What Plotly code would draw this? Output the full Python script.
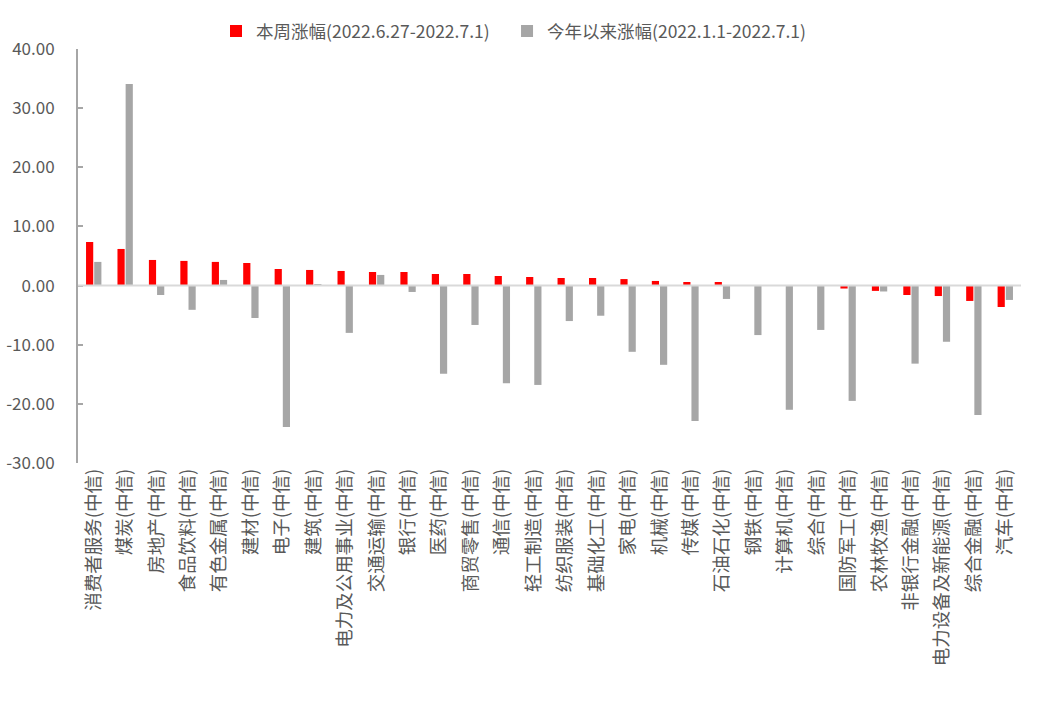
import plotly.graph_objects as go

categories = ["消费者服务(中信)", "煤炭(中信)", "房地产(中信)", "食品饮料(中信)", "有色金属(中信)",
              "建材(中信)", "电子(中信)", "建筑(中信)", "电力及公用事业(中信)", "交通运输(中信)",
              "银行(中信)", "医药(中信)", "商贸零售(中信)", "通信(中信)", "轻工制造(中信)",
              "纺织服装(中信)", "基础化工(中信)", "家电(中信)", "机械(中信)", "传媒(中信)",
              "石油石化(中信)", "钢铁(中信)", "计算机(中信)", "综合(中信)", "国防军工(中信)",
              "农林牧渔(中信)", "非银行金融(中信)", "电力设备及新能源(中信)", "综合金融(中信)", "汽车(中信)"]

week_change = [7.37, 6.19, 4.33, 4.17, 4.00, 3.82, 2.80, 2.64, 2.47, 2.30,
               2.30, 1.96, 1.96, 1.62, 1.45, 1.28, 1.28, 1.10, 0.78, 0.60,
               0.60, 0.05, 0.02, -0.05, -0.50, -0.90, -1.60, -1.77, -2.60, -3.62]

ytd_change = [4.00, 34.10, -1.60, -4.10, 0.95, -5.48, -23.90, 0.27, -8.00, 1.80,
              -1.08, -14.90, -6.66, -16.50, -16.80, -6.00, -5.10, -11.20, -13.40, -22.90,
              -2.26, -8.37, -21.00, -7.50, -19.50, -1.00, -13.20, -9.50, -21.90, -2.43]

series_names = ["本周涨幅(2022.6.27-2022.7.1)", "今年以来涨幅(2022.1.1-2022.7.1)"]
y_ticks = [-30, -20, -10, 0, 10, 20, 30, 40]
y_tick_labels = [f"{v:.2f}" for v in y_ticks]

FONT = "Noto Sans CJK SC, Microsoft YaHei, sans-serif"
TXT = "#595959"

fig = go.Figure()
fig.add_trace(go.Bar(x=categories, y=week_change, name=series_names[0], legend="legend",
                     marker=dict(color="#ff0000", line=dict(width=0))))
fig.add_trace(go.Bar(x=categories, y=ytd_change, name=series_names[1], legend="legend2",
                     marker=dict(color="#a6a6a6", line=dict(width=0))))

fig.add_shape(type="line", xref="paper", x0=0, x1=1, yref="y", y0=0, y1=0,
              line=dict(color="#d9d9d9", width=2), layer="above")

legend_common = dict(orientation="h", xref="container", xanchor="left",
                     y=1.043, yanchor="middle",
                     font=dict(size=17.5, color=TXT), bgcolor="rgba(0,0,0,0)")

fig.update_layout(
    width=1045, height=712,
    margin=dict(l=78, r=24, t=49, b=249, autoexpand=False),
    paper_bgcolor="white", plot_bgcolor="white",
    barmode="group", bargap=0.48, bargroupgap=0.12,
    font=dict(family=FONT, size=17, color=TXT),
    showlegend=True,
    legend=dict(x=0.2067, **legend_common),
    legend2=dict(x=0.4852, **legend_common),
)
fig.update_xaxes(type="category", showline=False, showgrid=False, zeroline=False,
                 tickangle=-90, ticks="", tickfont=dict(size=18.5, color=TXT),
                 ticklabelstandoff=1, automargin=False)
fig.update_yaxes(range=[-30, 40], tickvals=y_ticks, ticktext=y_tick_labels,
                 showgrid=False, zeroline=False,
                 showline=True, linecolor="#a6a6a6", linewidth=2,
                 ticks="inside", ticklen=5, tickcolor="#a6a6a6", tickwidth=2,
                 tickfont=dict(size=17, color=TXT), ticklabelstandoff=18, automargin=False)

fig.write_html("out.html", config={"displayModeBar": False},
               post_script="document.body.style.margin='0px';document.body.style.overflow='hidden';")
